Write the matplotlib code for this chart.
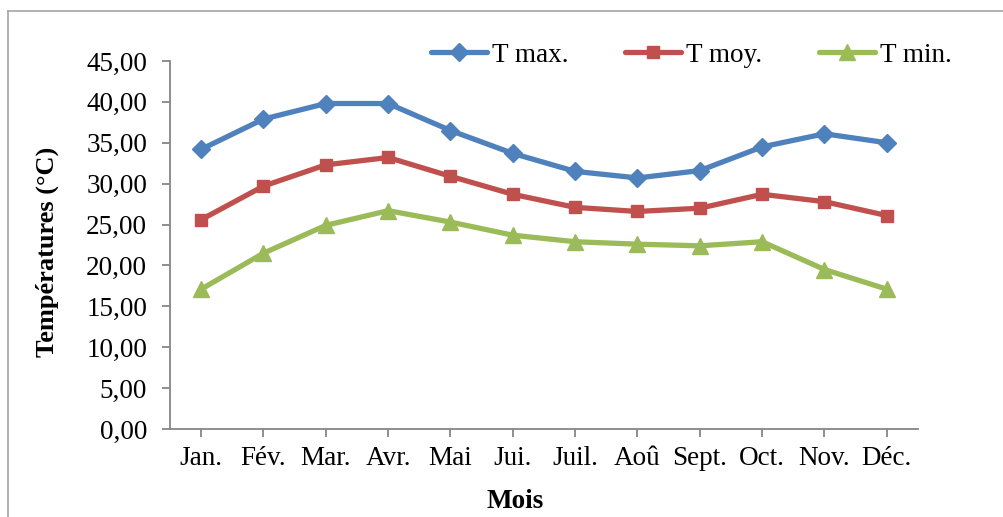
import matplotlib
matplotlib.use("Agg")
import matplotlib.pyplot as plt
from matplotlib.ticker import FuncFormatter
from matplotlib.lines import Line2D

months = ["Jan.", "Fév.", "Mar.", "Avr.", "Mai", "Jui.", "Juil.", "Aoû",
          "Sept.", "Oct.", "Nov.", "Déc."]
t_max = [34.2, 37.9, 39.8, 39.8, 36.5, 33.7, 31.5, 30.7, 31.6, 34.5, 36.1, 35.0]
t_moy = [25.6, 29.7, 32.3, 33.2, 30.9, 28.7, 27.1, 26.6, 27.0, 28.7, 27.8, 26.1]
t_min = [17.1, 21.5, 24.9, 26.7, 25.3, 23.7, 22.9, 22.6, 22.4, 22.9, 19.5, 17.1]
yticks = [0, 5, 10, 15, 20, 25, 30, 35, 40, 45]

plt.rcParams["font.family"] = ["Liberation Serif", "DejaVu Serif"]
FS = 19.5
W, H = 1004, 517
fig = plt.figure(figsize=(W / 100, H / 100), dpi=100)

# outer frame (top and left only, as in the source)
fig.add_artist(Line2D([8 / W, 8 / W], [0, 1 - 11 / H], color="#a6a6a6", lw=1.2))
fig.add_artist(Line2D([8 / W, 1], [1 - 11 / H, 1 - 11 / H], color="#a6a6a6", lw=1.2))

ax = fig.add_axes([170 / W, 88 / H, 748 / W, 368 / H])
x = range(len(months))
series = [
    ("T max.", t_max, "#4f81bd", "D", 9),
    ("T moy.", t_moy, "#c0504d", "s", 8.5),
    ("T min.", t_min, "#9bbb59", "^", 11),
]
for label, vals, color, mk, ms in series:
    ax.plot(x, vals, color=color, lw=3.8, marker=mk, ms=ms, label=label,
            solid_joinstyle="round", solid_capstyle="round")

ax.set_xlim(-0.5, 11.5)
ax.set_ylim(0, 45)
ax.set_yticks(yticks)
ax.yaxis.set_major_formatter(FuncFormatter(lambda v, p: f"{v:.2f}".replace(".", ",")))
ax.set_xticks(list(x))
ax.set_xticklabels(months)

for side in ["top", "right"]:
    ax.spines[side].set_visible(False)
for side in ["left", "bottom"]:
    ax.spines[side].set_color("#868686")
    ax.spines[side].set_linewidth(1.3)
ax.tick_params(axis="both", colors="#868686", labelcolor="black",
               length=5.5, width=1.3, labelsize=FS)
ax.tick_params(axis="x", pad=7)
ax.tick_params(axis="y", pad=11)

fig.text(47 / W, 1 - 252 / H, "Températures (°C)", rotation=90, ha="center",
         va="center", fontsize=19, fontweight="bold")
fig.text(515 / W, 1 - 502 / H, "Mois", ha="center", va="center",
         fontsize=FS, fontweight="bold")

ax.legend(loc="center left", bbox_to_anchor=(431 / W, 1 - 55 / H),
          bbox_transform=fig.transFigure, ncol=3, frameon=False, fontsize=FS,
          handlelength=2.05, handletextpad=0.2, columnspacing=2.1,
          borderpad=0, borderaxespad=0)

fig.savefig("out.png", dpi=100)
